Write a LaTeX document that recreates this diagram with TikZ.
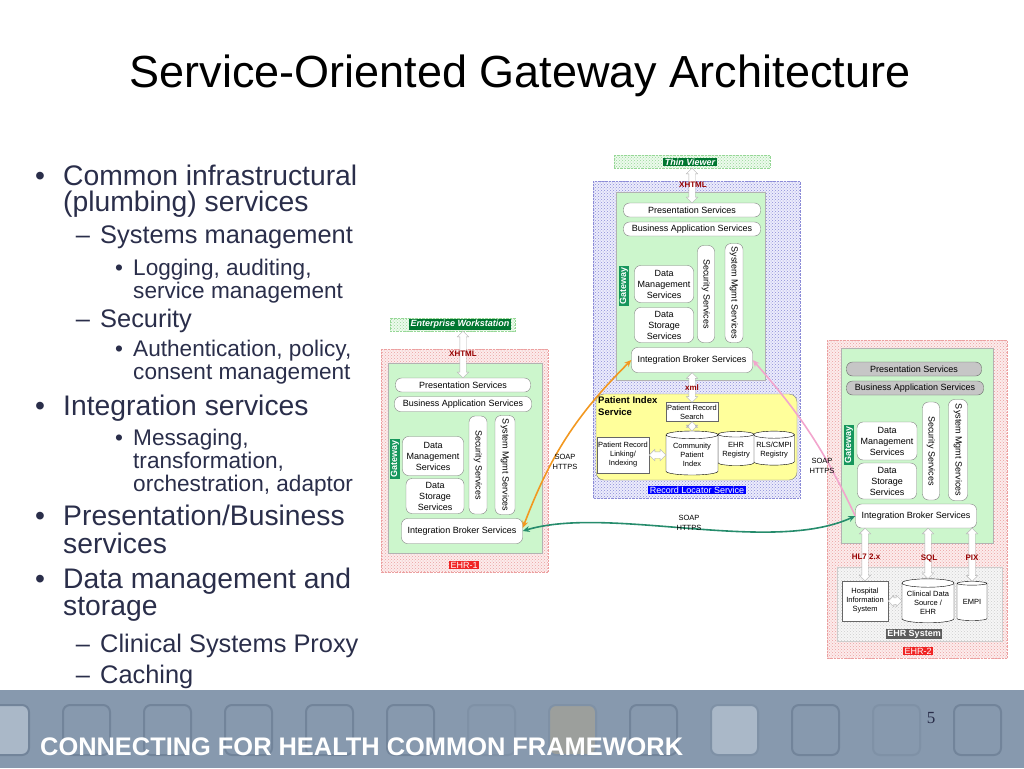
\documentclass[tikz,border=0pt]{standalone}
\usepackage{fontspec}
\setmainfont{Liberation Sans}
\newfontfamily\serifnum{Liberation Serif}
\usetikzlibrary{shapes.geometric,shapes.arrows,arrows.meta,patterns,calc}

\definecolor{navy}{RGB}{42,46,74}
\definecolor{bannerblue}{RGB}{135,153,174}
\definecolor{sqline}{RGB}{114,132,154}
\definecolor{sqfaint}{RGB}{127,145,166}
\definecolor{sqlight}{RGB}{170,184,200}
\definecolor{sqtan}{RGB}{156,159,156}
\definecolor{gwgreen}{RGB}{204,246,204}
\definecolor{gwtag}{RGB}{22,150,92}
\definecolor{tagdark}{RGB}{0,118,48}
\definecolor{tagred}{RGB}{240,36,36}
\definecolor{tagblue}{RGB}{0,0,255}
\definecolor{taggray}{RGB}{92,92,92}
\definecolor{protored}{RGB}{150,0,0}
\definecolor{pisyellow}{RGB}{255,255,155}
\definecolor{pinkbg}{RGB}{252,236,236}
\definecolor{pinkdot}{RGB}{236,160,160}
\definecolor{bluebg}{RGB}{236,236,252}
\definecolor{bluedot}{RGB}{140,140,215}
\definecolor{greenbg}{RGB}{236,250,236}
\definecolor{greendot}{RGB}{150,215,150}
\definecolor{graybg}{RGB}{246,246,246}
\definecolor{graydot}{RGB}{205,205,205}
\definecolor{soaporange}{RGB}{242,152,32}
\definecolor{soappink}{RGB}{242,165,205}
\definecolor{soapgreen}{RGB}{38,140,108}

\newcommand\svcfont{\fontsize{9}{11}\selectfont}
\newcommand\smallfont{\fontsize{7.5}{9}\selectfont}
\newcommand\tagfont{\fontsize{9}{10}\selectfont}

\tikzset{
  lvone/.style={font=\fontsize{28.3}{32}\selectfont, text=navy, inner sep=0pt},
  lvtwo/.style={font=\fontsize{25.4}{28}\selectfont, text=navy, inner sep=0pt},
  lvthree/.style={font=\fontsize{22.6}{25}\selectfont, text=navy, inner sep=0pt},
  svc/.style={draw=gray, fill=white, rounded corners=6pt, font=\svcfont, align=center, inner sep=1pt},
  svcgray/.style={svc, fill=gray!45, draw=gray!80!black},
  plainbox/.style={draw=gray!80!black, fill=white, font=\smallfont, align=center, inner sep=1pt},
  db/.style={cylinder, shape border rotate=90, aspect=0.2, draw, fill=white, font=\smallfont, align=center, inner sep=0pt},
  tag/.style={font=\tagfont, text=white, inner xsep=1.5pt, inner ysep=1pt},
  proto/.style={font=\fontsize{8}{9}\selectfont\bfseries, text=protored, inner sep=0.5pt},
  soap/.style={font=\fontsize{7.5}{9.5}\selectfont, align=center, inner sep=0pt},
  dbl/.style={double arrow, draw=gray!60, fill=white, double arrow head extend=2.5pt, inner xsep=0pt, inner ysep=3pt},
  gw/.style={draw=gray!60, fill=gwgreen},
  pinkframe/.style={draw=pinkdot, densely dotted, preaction={fill=pinkbg}, pattern=crosshatch dots, pattern color=pinkdot},
  blueframe/.style={draw=bluedot, densely dotted, preaction={fill=bluebg}, pattern=crosshatch dots, pattern color=bluedot},
  grayframe/.style={draw=graydot, preaction={fill=graybg}, pattern=crosshatch dots, pattern color=graydot},
  lightbox/.style={draw=greendot, densely dotted, preaction={fill=greenbg}, pattern=crosshatch dots, pattern color=greendot, inner sep=0pt},
  soapline/.style={line width=1.6pt},
}

\newcommand\dblarr[3]{%
  \path let \p1=(#2), \p2=(#3), \n1={veclen(\x2-\x1,\y2-\y1)}, \n2={atan2(\y2-\y1,\x2-\x1)} in
    node[dbl, minimum height=\n1, rotate=\n2] (#1) at ($(\p1)!0.5!(\p2)$) {};}

\begin{document}
\begin{tikzpicture}[x=1pt, y=-1pt]
  \useasboundingbox (0,0) rectangle (1024,768);
  \node[font=\fontsize{45}{50}\selectfont, anchor=base, inner sep=0pt] (title) at (520,87) {Service-Oriented Gateway Architecture};

  % bullets
  \foreach \y in {185,415,525,588}
    \node[lvone, anchor=base] (bone\y) at (40,\y) {•};
  \foreach \y in {243,327,652,683}
    \node[lvtwo, anchor=base] (btwo\y) at (83,\y) {–};
  \foreach \y in {275,356,445}
    \node[lvthree, anchor=base] (bthree\y) at (119,\y) {•};
  \foreach \y/\t in {185/{Common infrastructural}, 211/{(plumbing) services}, 415/{Integration services},
                     525/{Presentation/Business}, 553/{services}, 588/{Data management and}, 615/{storage}}
    \node[lvone, anchor=base west] (txt\y) at (63,\y) {\t};
  \foreach \y/\t in {243/{Systems management}, 327/{Security}, 652/{Clinical Systems Proxy}, 683/{Caching}}
    \node[lvtwo, anchor=base west] (txt\y) at (100,\y) {\t};
  \foreach \y/\t in {275/{Logging, auditing,}, 298/{service management}, 356/{Authentication, policy,},
                     379/{consent management}, 445/{Messaging,}, 468/{transformation,}, 491/{orchestration, adaptor}}
    \node[lvthree, anchor=base west] (txt\y) at (133,\y) {\t};

  % thin viewer gateway
  \node[lightbox, minimum width=156, minimum height=13] (tv) at (692,161.5) {};
  \node[tag, fill=tagdark] (tvtag) at (690,162) {\bfseries\itshape Thin Viewer};
  \draw[blueframe] (593,181) rectangle (800,498);
  \draw[gw] (616,192) rectangle (765,380);
  \node[tag, fill=gwtag, rotate=90] (cgate) at (624,286) {\bfseries Gateway};
  \node[svc, minimum width=137, minimum height=14] (cps) at (692,210) {Presentation Services};
  \node[svc, minimum width=137, minimum height=14] (cbas) at (692,229) {Business Application Services};
  \node[svc, minimum width=59, minimum height=37] (cdm) at (664,284) {Data\\Management\\Services};
  \node[svc, minimum width=59, minimum height=35] (cds) at (664,325) {Data\\Storage\\Services};
  \node[svc, rotate=-90, minimum width=97, minimum height=17] (csec) at (706,294) {Security Services};
  \node[svc, rotate=-90, minimum width=99, minimum height=18] (csys) at (734,293) {System Mgmt Services};
  \node[svc, minimum width=121, minimum height=25] (cibs) at (692,360) {Integration Broker Services};

  \draw[draw=gray, fill=pisyellow, rounded corners=8pt] (596,394) rectangle (797,480);
  \node[anchor=north west, align=left, inner sep=0pt, font=\fontsize{9.5}{12}\selectfont\bfseries] (pis) at (598,396) {Patient Index\\Service};
  \node[plainbox, minimum width=51, minimum height=19] (prs) at (692,412) {Patient Record\\Search};
  \node[plainbox, minimum width=52, minimum height=36] (link) at (623,455) {Patient Record\\Linking/\\Indexing};
  \node[db, minimum width=41, minimum height=34] (rlsreg) at (774,450) {RLS/CMPI\\Registry};
  \node[db, minimum width=36, minimum height=34] (ehrreg) at (736,450) {EHR\\Registry};
  \node[db, minimum width=52, minimum height=44] (cpi) at (692,455) {Community\\Patient\\Index};
  \node[tag, fill=tagblue] (rlstag) at (697,490) {Record Locator Service};

  % enterprise workstation / EHR-1
  \node[lightbox, minimum width=125, minimum height=13] (ew) at (452.5,324.5) {};
  \node[tag, fill=tagdark] (ewtag) at (460,324.5) {\bfseries\itshape Enterprise Workstation};
  \draw[pinkframe] (381,349) rectangle (548,572);
  \draw[gw] (388,363) rectangle (542,553);
  \node[tag, fill=gwtag, rotate=90] (lgate) at (395,459) {\bfseries Gateway};
  \node[svc, minimum width=135, minimum height=14] (lps) at (463,385) {Presentation Services};
  \node[svc, minimum width=137, minimum height=15] (lbas) at (463,404) {Business Application Services};
  \node[svc, minimum width=61, minimum height=39] (ldm) at (433,456) {Data\\Management\\Services};
  \node[svc, minimum width=58, minimum height=35] (lds) at (435,496) {Data\\Storage\\Services};
  \node[svc, rotate=-90, minimum width=98, minimum height=18] (lsec) at (478,465) {Security Services};
  \node[svc, rotate=-90, minimum width=99, minimum height=20] (lsys) at (505,465) {System Mgmt Services};
  \node[svc, minimum width=121, minimum height=25] (libs) at (462,531) {Integration Broker Services};
  \node[tag, fill=tagred] (ehronetag) at (464,565) {EHR-1};

  % EHR-2
  \draw[pinkframe] (827,340) rectangle (1007,658);
  \draw[gw] (841,348) rectangle (993,543);
  \node[tag, fill=gwtag, rotate=90] (rgate) at (849,445) {\bfseries Gateway};
  \node[svcgray, minimum width=135, minimum height=14] (rps) at (914,369) {Presentation Services};
  \node[svcgray, minimum width=137, minimum height=14] (rbas) at (915,388) {Business Application Services};
  \node[svc, minimum width=60, minimum height=38] (rdm) at (887,441) {Data\\Management\\Services};
  \node[svc, minimum width=59, minimum height=36] (rds) at (887,481) {Data\\Storage\\Services};
  \node[svc, rotate=-90, minimum width=98, minimum height=17] (rsec) at (931,451) {Security Services};
  \node[svc, rotate=-90, minimum width=101, minimum height=19] (rsys) at (958,450) {System Mgmt Services};
  \node[svc, minimum width=121, minimum height=24] (ribs) at (916,516) {Integration Broker Services};
  \draw[grayframe] (837,567) rectangle (1002,641);
  \node[plainbox, minimum width=46, minimum height=40] (rhis) at (865,601) {Hospital\\Information\\System};
  \node[db, minimum width=52, minimum height=44] (rcds) at (928,603) {Clinical Data\\Source /\\EHR};
  \node[db, minimum width=30, minimum height=39] (rempi) at (972,602) {EMPI};
  \node[tag, fill=taggray] (ehrsystag) at (914,634) {\bfseries EHR System};
  \node[tag, fill=tagred] (ehrtwotag) at (918,651) {EHR-2};

  % hollow double arrows
  \dblarr{atv}{tv.south -| cps.north}{cps.north}
  \dblarr{axml}{cibs.south -| prs.north}{prs.north}
  \dblarr{aprs}{prs.south}{prs.south |- cpi.north}
  \dblarr{alink}{link.east}{link.east -| cpi.west}
  \dblarr{aew}{ew.south -| lps.north}{lps.north}
  \dblarr{ahis}{ribs.south -| rhis.north}{rhis.north}
  \dblarr{acds}{ribs.south -| rcds.north}{rcds.north}
  \dblarr{aempi}{ribs.south -| rempi.north}{rempi.north}
  \dblarr{ahiscds}{rhis.east}{rhis.east -| rcds.west}

  \node[proto] (cxhtml) at (693,185) {XHTML};
  \node[proto] (lxhtml) at (463,354) {XHTML};
  \node[proto] (cxml) at (692,388) {xml};
  \node[proto] (hlseven) at (866,557) {HL7 2.x};
  \node[proto] (sql) at (929,558) {SQL};
  \node[proto] (pix) at (972,558) {PIX};

  % SOAP links
  \draw[soapline, soaporange, {Stealth[length=7pt,width=6pt]}-{Stealth[length=7pt,width=6pt]}] ([yshift=3pt]libs.east) to[bend left=12] (cibs.west);
  \draw[soapline, soappink, {Stealth[length=7pt,width=6pt]}-] (cibs.east) to[bend left=8] (ribs.west);
  \draw[soapline, soapgreen, {Stealth[length=7pt,width=6pt]}-{Stealth[length=7pt,width=6pt]}] (libs.east) .. controls (610,505) and (770,555) .. (ribs.west);
  \node[soap] (soapleft) at (565,462) {SOAP\\HTTPS};
  \node[soap] (soapmid) at (689,523) {SOAP\\HTTPS};
  \node[soap] (soapright) at (822,466) {SOAP\\HTTPS};

  % footer banner
  \fill[bannerblue] (0,690) rectangle (1024,768);
  \foreach \i/\f/\d in {0/sqlight/sqline, 1/bannerblue/sqline, 2/bannerblue/sqline, 3/bannerblue/sqline,
                        4/bannerblue/sqline, 5/bannerblue/sqline, 6/bannerblue/sqfaint, 7/sqtan/sqfaint,
                        8/bannerblue/sqline, 9/sqlight/sqfaint, 10/bannerblue/sqline, 11/bannerblue/sqfaint,
                        12/bannerblue/sqline}
    \draw[\d, fill=\f, line width=2pt, rounded corners=7pt] (-18+81*\i,705) rectangle ++(47,50);
  \node[font=\fontsize{25.4}{28}\selectfont\bfseries, text=white, anchor=base west, inner sep=0pt] (footer) at (40,755) {CONNECTING FOR HEALTH COMMON FRAMEWORK};
  \node[font=\serifnum\fontsize{17}{20}\selectfont, text=navy, anchor=base, inner sep=0pt] (pagenum) at (931,723) {5};
\end{tikzpicture}
\end{document}
